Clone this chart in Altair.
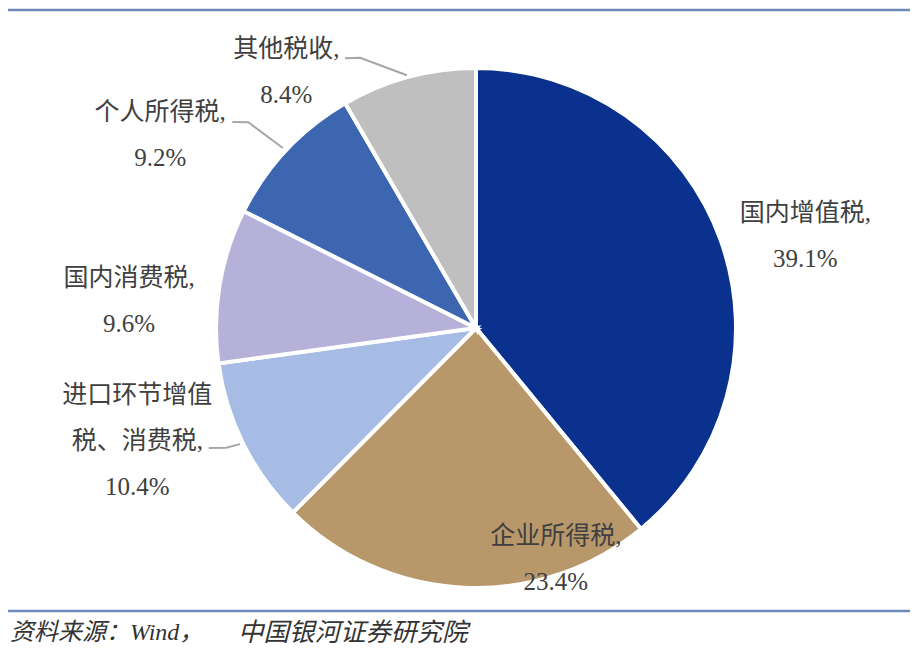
import math
import altair as alt
import pandas as pd

# ---- data ----
categories = ["国内增值税", "企业所得税", "进口环节增值税、消费税", "国内消费税", "个人所得税", "其他税收"]
values = [39.1, 23.4, 10.4, 9.6, 9.2, 8.4]
label_texts = [
    "国内增值税,\n39.1%",
    "企业所得税,\n23.4%",
    "进口环节增值\n税、消费税,\n10.4%",
    "国内消费税,\n9.6%",
    "个人所得税,\n9.2%",
    "其他税收,\n8.4%",
]
colors = ["#0b318f", "#b8976a", "#a7bce4", "#b6b1d8", "#3d66b0", "#bfbfbf"]
source_parts = ["资料来源：Wind，", "中国银河证券研究院"]

# ---- layout (polar positions of labels/leaders, relative to pie centre) ----
W, H = 902, 638
CX, CY = 468, 320
R = 260
LH = 46
label_polar = [(74.4, 342), (160.9, 244), (251.6, 357), (274.4, 348), (301.4, 370), (323.5, 319)]
leaders = {
    "其他税收": [(334.1, 300), (336.8, 294), (344.7, 262)],
    "个人所得税": [(310.2, 319), (312.1, 307), (313.0, 264)],
    "进口环节增值税、消费税": [(245.8, 293), (244.4, 277), (243.8, 263)],
}
source_x = [2, 230]
source_size = [24, 25.5]


def to_xy(a, r):
    t = math.radians(a)
    return CX + r * math.sin(t), CY - r * math.cos(t)


pie_df = pd.DataFrame({"cat": categories, "value": values, "order": list(range(len(values)))})

lab_rows = []
for txt, (a, r) in zip(label_texts, label_polar):
    x, y = to_xy(a, r)
    n = txt.count("\n") + 1
    lab_rows.append({"text": txt, "x": x, "y": y - (n - 1) * LH / 2})
lab_df = pd.DataFrame(lab_rows)

ld_rows = []
for name, pts in leaders.items():
    for i, (a, r) in enumerate(pts):
        x, y = to_xy(a, r)
        ld_rows.append({"grp": name, "i": i, "x": x, "y": y})
ld_df = pd.DataFrame(ld_rows)

FONT = "Liberation Serif, Noto Sans CJK SC"

pie = alt.Chart(pie_df).mark_arc(outerRadius=R, stroke="white", strokeWidth=4).encode(
    theta=alt.Theta("value:Q", stack=True),
    order=alt.Order("order:Q"),
    color=alt.Color("cat:N", scale=alt.Scale(domain=categories, range=colors), legend=None),
    x=alt.value(CX),
    y=alt.value(CY),
)

lines = alt.Chart(ld_df).mark_line(color="#a6a6a6", strokeWidth=2).encode(
    x=alt.X("x:Q", scale=None),
    y=alt.Y("y:Q", scale=None),
    detail="grp:N",
    order="i:Q",
)

labels = alt.Chart(lab_df).mark_text(
    font=FONT, fontSize=25, color="#404040", lineBreak="\n", lineHeight=LH,
    align="center", baseline="middle",
).encode(
    x=alt.X("x:Q", scale=None),
    y=alt.Y("y:Q", scale=None),
    text="text:N",
)

src_df = pd.DataFrame({"t": source_parts, "x": source_x, "s": source_size})
source = alt.Chart(src_df).mark_text(
    font=FONT, fontStyle="italic", color="#333333", align="left", baseline="middle",
).encode(
    x=alt.X("x:Q", scale=None),
    y=alt.value(625),
    size=alt.Size("s:Q", scale=None),
    text="t:N",
)

rule_df = pd.DataFrame({"y": [2, 603]})
rules = alt.Chart(rule_df).mark_rule(color="#6f8ab9", strokeWidth=2.6).encode(
    x=alt.value(0), x2=alt.value(W), y=alt.Y("y:Q", scale=None)
)

chart = alt.layer(pie, lines, labels, source, rules).properties(
    width=W, height=H, padding=0, autosize=alt.AutoSizeParams(type="none")
).configure_view(stroke=None)

chart.save("out.html", embed_options={"renderer": "svg", "actions": False})
